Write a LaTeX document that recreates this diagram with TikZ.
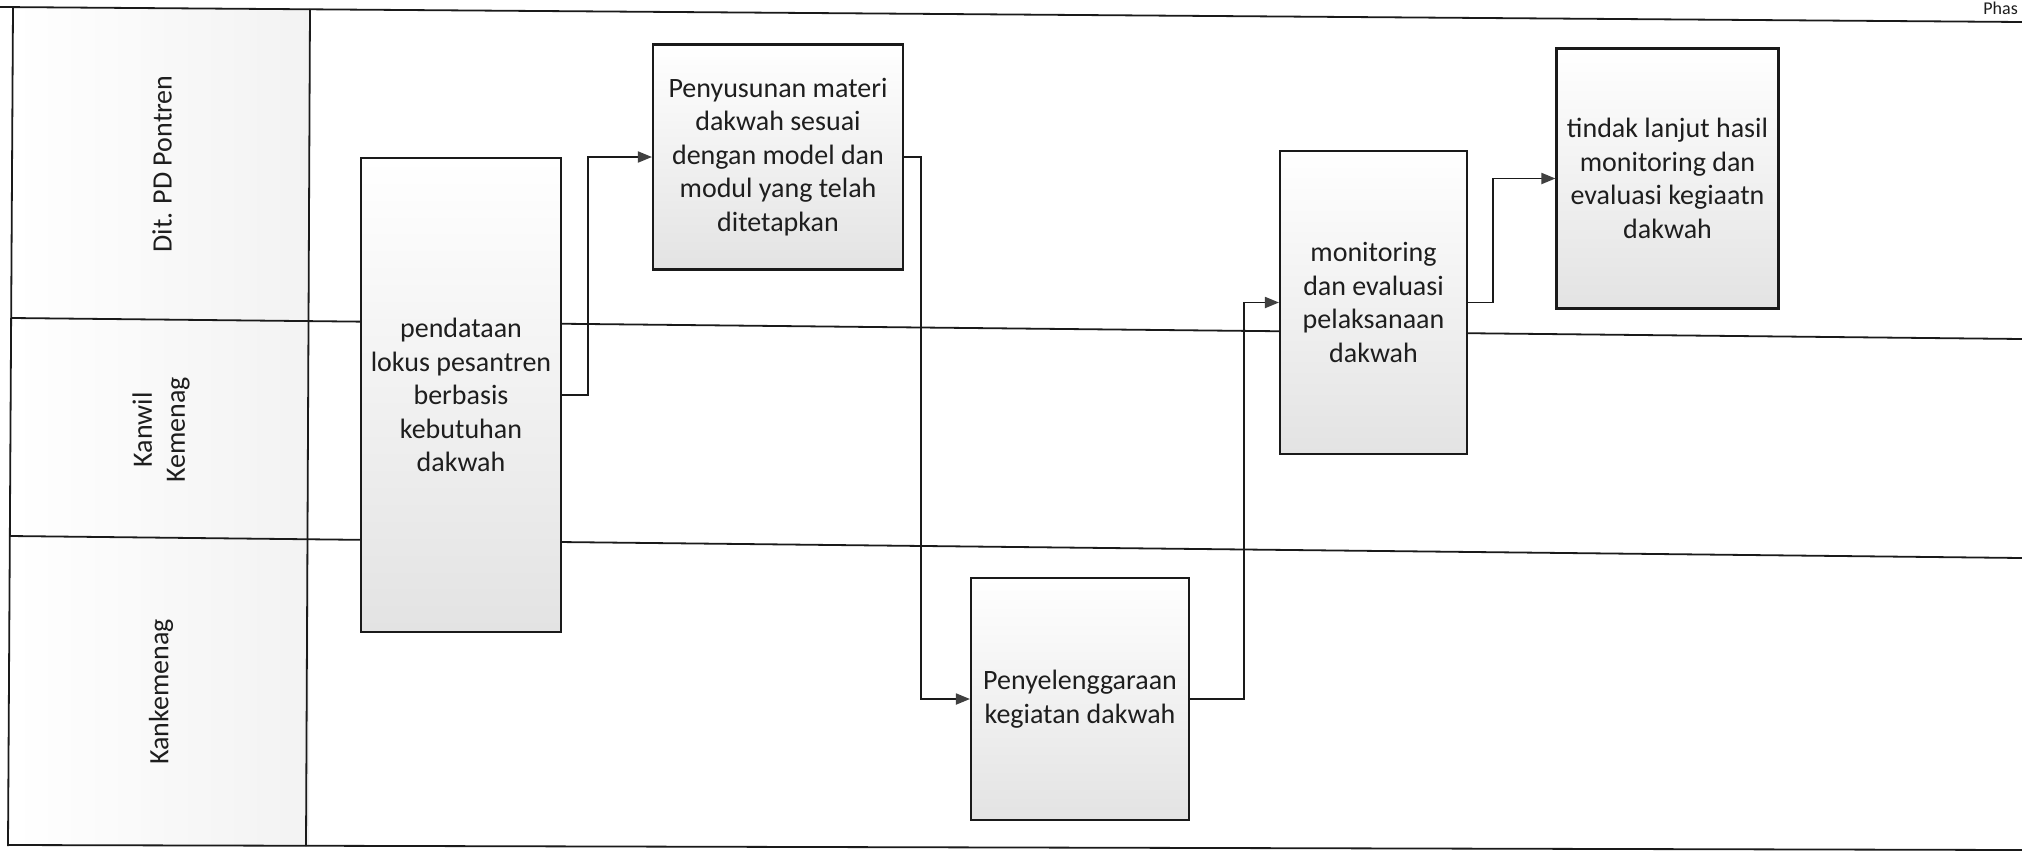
\documentclass[tikz,border=0pt]{standalone}
\usepackage{fontspec}
\setmainfont{Carlito}
\usetikzlibrary{arrows.meta}
\definecolor{ln}{HTML}{1A1A1A}
\definecolor{ah}{HTML}{404040}
\definecolor{txt}{HTML}{1E1E1E}
\begin{document}
\begin{tikzpicture}[x=0.5pt,y=-0.5pt,
  lane/.style={draw=ln, line width=0.9pt},
  proc/.style={draw=ln, line width=1.05pt, top color=white, bottom color=black!11, align=center, inner sep=2pt, text=txt, font=\fontsize{14}{16.8}\selectfont},
  lbl/.style={rotate=90, align=center, text=txt, font=\fontsize{14}{16.5}\selectfont},
  flow/.style={draw=ln, line width=0.9pt, -{Triangle[length=7pt,width=5.5pt,color=ah]}}]
\fill[white] (0,0) rectangle (2022,857);
\useasboundingbox (0,0) rectangle (2022,857);
% lane label column shading
\shade[left color=white, right color=black!5] (13,9) rectangle (309,846);
% lanes
\draw[lane] (0,7) -- (2022,22);
\draw[lane] (13,8) -- (8,846);
\draw[lane] (310,9) -- (306,846);
\draw[lane] (12,318) -- (2022,339);
\draw[lane] (10,536) -- (2022,558);
\draw[lane] (8,845) -- (2022,850);
% header text
\node[anchor=west, inner sep=0pt, text=txt, font=\fontsize{9}{10}\selectfont] (ph) at (1983,8) {Phas};
% lane labels
\node[lbl] (l1) at (162,164) {Dit. PD Pontren};
\node[lbl] (l2) at (161,430) {Kanwil\\Kemenag};
\node[lbl] (l3) at (161,692) {Kankemenag};
% process boxes
\node[proc, minimum width=100pt, minimum height=237pt] (pend) at (461,395)
  {pendataan\\lokus pesantren\\berbasis\\kebutuhan\\dakwah};
\node[proc, minimum width=125pt, minimum height=112.5pt] (peny) at (778,157)
  {Penyusunan materi\\dakwah sesuai\\dengan model dan\\modul yang telah\\ditetapkan};
\node[proc, minimum width=109pt, minimum height=121pt] (penyel) at (1080,699)
  {Penyelenggaraan\\kegiatan dakwah};
\node[proc, minimum width=93.5pt, minimum height=151.5pt] (mon) at (1373.5,302.5)
  {monitoring\\dan evaluasi\\pelaksanaan\\dakwah};
\node[proc, minimum width=111pt, minimum height=130pt] (tind) at (1667.5,178.5)
  {tindak lanjut hasil\\monitoring dan\\evaluasi kegiaatn\\dakwah};
% connectors
\draw[flow] (pend.east) -- ++(26,0) |- (peny.west);
\draw[flow] (peny.east) -- ++(17,0) |- (penyel.west);
\draw[flow] (penyel.east) -- ++(54,0) |- (mon.west);
\draw[flow] (mon.east) -- ++(25,0) |- (tind.west);
\end{tikzpicture}
\end{document}
